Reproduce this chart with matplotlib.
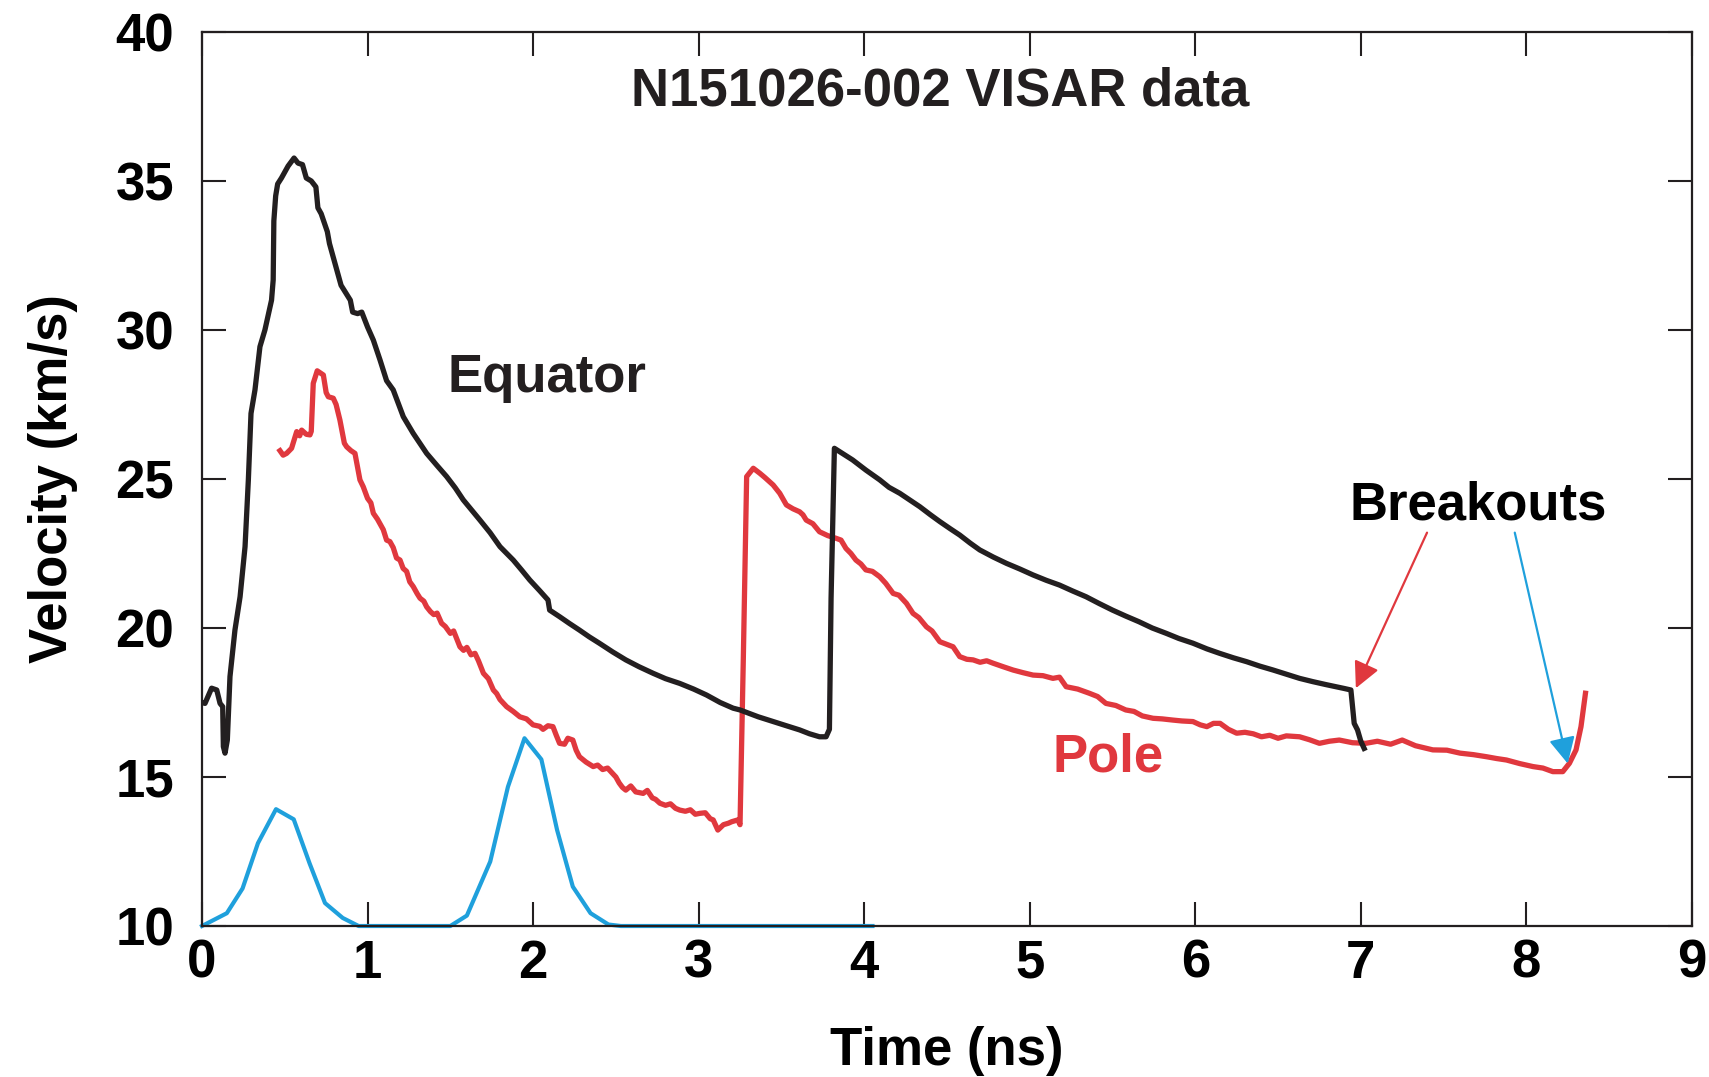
import matplotlib
matplotlib.use("Agg")
import matplotlib.pyplot as plt

# ---------------- data ----------------
eq_t = [0.00, 0.018, 0.058, 0.089, 0.109, 0.125, 0.129, 0.139, 0.153, 0.169, 0.199, 0.23, 0.26, 0.28,
        0.296, 0.32, 0.35, 0.38, 0.42, 0.43, 0.434, 0.445, 0.457, 0.48, 0.52, 0.556, 0.58, 0.607, 0.63,
        0.66, 0.688, 0.70, 0.72, 0.757, 0.77, 0.815, 0.84, 0.896, 0.91, 0.94, 0.965, 1.0, 1.035, 1.075,
        1.115, 1.155, 1.216, 1.276, 1.357, 1.42, 1.478, 1.53, 1.578, 1.63, 1.679, 1.74, 1.80, 1.88, 1.93,
        1.98, 2.04, 2.09, 2.10, 2.16, 2.22, 2.28, 2.34, 2.40, 2.48, 2.56, 2.64, 2.725, 2.80, 2.886, 2.97,
        3.048, 3.13, 3.208, 3.25, 3.36, 3.45, 3.53, 3.61, 3.67, 3.73, 3.77, 3.79, 3.80, 3.82, 3.93, 4.01,
        4.094, 4.15, 4.215, 4.28, 4.336, 4.40, 4.457, 4.52, 4.577, 4.64, 4.698, 4.78, 4.859, 4.94, 5.02,
        5.10, 5.18, 5.26, 5.34, 5.42, 5.50, 5.58, 5.66, 5.74, 5.825, 5.90, 5.986, 6.07, 6.147, 6.23, 6.31,
        6.39, 6.47, 6.55, 6.63, 6.71, 6.79, 6.85, 6.90, 6.94, 6.96, 6.98, 7.00, 7.02]
eq_v = [17.5, 17.47, 17.98, 17.92, 17.47, 17.36, 16.02, 15.80, 16.24, 18.37, 19.93, 21.05, 22.73, 24.97,
        27.2, 27.99, 29.44, 30.0, 31.0, 31.68, 33.66, 34.5, 34.9, 35.1, 35.5, 35.77, 35.6, 35.55, 35.1,
        35.0, 34.8, 34.1, 33.9, 33.3, 32.9, 32.0, 31.5, 31.0, 30.6, 30.55, 30.6, 30.1, 29.66, 29.0,
        28.3, 27.99, 27.09, 26.53, 25.86, 25.45, 25.08, 24.7, 24.30, 23.95, 23.62, 23.2, 22.73, 22.28, 21.95,
        21.61, 21.25, 20.94, 20.60, 20.38, 20.15, 19.93, 19.7, 19.49, 19.2, 18.93, 18.7, 18.48, 18.3, 18.14, 17.95,
        17.75, 17.5, 17.31, 17.25, 17.02, 16.86, 16.72, 16.58, 16.45, 16.35, 16.35, 16.6, 21.0, 26.03, 25.64, 25.3,
        24.97, 24.72, 24.52, 24.28, 24.07, 23.8, 23.57, 23.33, 23.12, 22.85, 22.62, 22.38, 22.17, 21.98, 21.78,
        21.6, 21.44, 21.24, 21.05, 20.82, 20.60, 20.4, 20.21, 20.0, 19.82, 19.65, 19.49, 19.3, 19.15, 19.0, 18.87,
        18.72, 18.59, 18.45, 18.31, 18.2, 18.1, 18.03, 17.97, 17.92, 16.80, 16.58, 16.2, 15.96]

pole_t = [0.471, 0.49, 0.511, 0.541, 0.572, 0.59, 0.602, 0.63, 0.652, 0.66,
          0.672, 0.696, 0.733, 0.75, 0.763, 0.793, 0.81, 0.833, 0.86, 0.874,
          0.90, 0.924, 0.954, 0.974, 1.00, 1.02, 1.035, 1.06, 1.075, 1.095,
          1.115, 1.135, 1.155, 1.175, 1.196, 1.215, 1.236, 1.255, 1.276, 1.30,
          1.317, 1.34, 1.357, 1.38, 1.40, 1.42, 1.447, 1.47, 1.50, 1.52,
          1.558, 1.58, 1.60, 1.625, 1.649, 1.67, 1.70, 1.73, 1.76, 1.78,
          1.80, 1.84, 1.88, 1.92, 1.96, 2.0, 2.04, 2.06, 2.09, 2.12,
          2.14, 2.16, 2.19, 2.21, 2.24, 2.26, 2.28, 2.32, 2.363, 2.39,
          2.42, 2.45, 2.48, 2.50, 2.52, 2.54, 2.56, 2.59, 2.62, 2.665,
          2.69, 2.72, 2.74, 2.766, 2.80, 2.83, 2.86, 2.886, 2.92, 2.95,
          2.98, 3.007, 3.04, 3.07, 3.088, 3.116, 3.15, 3.18, 3.20, 3.237,
          3.25, 3.27, 3.29, 3.33, 3.37, 3.40, 3.42, 3.45, 3.49, 3.53,
          3.57, 3.61, 3.63, 3.65, 3.69, 3.73, 3.78, 3.83, 3.86, 3.89,
          3.92, 3.95, 3.98, 4.01, 4.05, 4.094, 4.13, 4.175, 4.21, 4.255,
          4.295, 4.33, 4.376, 4.41, 4.457, 4.50, 4.537, 4.577, 4.62, 4.658,
          4.70, 4.74, 4.778, 4.84, 4.899, 4.96, 5.02, 5.08, 5.14, 5.18,
          5.22, 5.29, 5.36, 5.41, 5.46, 5.52, 5.58, 5.63, 5.68, 5.745,
          5.80, 5.865, 5.92, 5.986, 6.03, 6.07, 6.11, 6.15, 6.20, 6.25,
          6.30, 6.35, 6.40, 6.45, 6.50, 6.55, 6.63, 6.69, 6.75, 6.81,
          6.87, 6.95, 7.03, 7.10, 7.18, 7.25, 7.33, 7.435, 7.52, 7.60,
          7.68, 7.76, 7.82, 7.88, 7.96, 8.04, 8.10, 8.16, 8.22, 8.26,
          8.30, 8.33, 8.357]
pole_v = [25.95, 25.8, 25.86, 26.03, 26.59, 26.45, 26.64, 26.5, 26.48, 26.6,
          28.21, 28.63, 28.49, 27.9, 27.76, 27.71, 27.5, 26.98, 26.2, 26.08,
          25.95, 25.86, 24.97, 24.74, 24.35, 24.2, 23.85, 23.65, 23.5, 23.3,
          22.95, 22.9, 22.7, 22.35, 22.28, 22.0, 21.9, 21.55, 21.39, 21.15,
          21.0, 20.9, 20.71, 20.55, 20.45, 20.5, 20.16, 20.05, 19.82, 19.9,
          19.37, 19.25, 19.35, 19.1, 19.15, 18.9, 18.48, 18.3, 17.92, 17.8,
          17.6, 17.36, 17.2, 17.02, 16.95, 16.75, 16.7, 16.6, 16.72, 16.69,
          16.4, 16.13, 16.1, 16.3, 16.24, 15.9, 15.68, 15.5, 15.35, 15.4,
          15.25, 15.3, 15.12, 15.0, 14.8, 14.65, 14.56, 14.7, 14.5, 14.45,
          14.55, 14.3, 14.25, 14.12, 14.05, 14.1, 13.95, 13.89, 13.85, 13.9,
          13.75, 13.78, 13.8, 13.6, 13.56, 13.22, 13.4, 13.45, 13.5, 13.56,
          13.4, 19.0, 25.08, 25.36, 25.19, 25.05, 24.95, 24.8, 24.52, 24.13,
          24.0, 23.9, 23.8, 23.62, 23.5, 23.23, 23.1, 23.01, 22.95, 22.67,
          22.5, 22.28, 22.15, 21.95, 21.9, 21.72, 21.5, 21.16, 21.1, 20.83,
          20.49, 20.35, 20.04, 19.9, 19.54, 19.45, 19.37, 19.04, 18.95, 18.93,
          18.85, 18.9, 18.82, 18.7, 18.59, 18.5, 18.42, 18.4, 18.31, 18.35,
          18.03, 17.95, 17.81, 17.7, 17.47, 17.4, 17.25, 17.2, 17.05, 16.97,
          16.95, 16.91, 16.88, 16.86, 16.75, 16.69, 16.8, 16.8, 16.6, 16.47,
          16.5, 16.45, 16.35, 16.4, 16.3, 16.38, 16.35, 16.25, 16.13, 16.2,
          16.24, 16.15, 16.13, 16.2, 16.1, 16.24, 16.05, 15.91, 15.9, 15.8,
          15.75, 15.68, 15.62, 15.57, 15.45, 15.35, 15.3, 15.18, 15.18, 15.46,
          15.91, 16.69, 17.81]

pulse_t = [0.0, 0.15, 0.245, 0.338, 0.447, 0.554, 0.65, 0.743, 0.85, 0.946, 1.50, 1.60, 1.741, 1.848,
           1.948, 2.05, 2.145, 2.24, 2.347, 2.455, 2.53, 4.05]
pulse_v = [10.0, 10.43, 11.26, 12.78, 13.92, 13.58, 12.1, 10.77, 10.27, 10.0, 10.0, 10.35, 12.16, 14.67,
           16.3, 15.59, 13.22, 11.32, 10.43, 10.05, 10.0, 10.0]

x_ticks = [0, 1, 2, 3, 4, 5, 6, 7, 8, 9]
y_ticks = [10, 15, 20, 25, 30, 35, 40]

title = "N151026-002 VISAR data"
# ---------------------------------------

BLACK = "#231f20"
RED = "#e0383e"
BLUE = "#1fa0dc"
FS = 38

plt.rcParams['font.family'] = ['Liberation Sans', 'DejaVu Sans']
plt.rcParams['font.weight'] = 'bold'

fig = plt.figure(figsize=(17.09, 10.77), dpi=100)
ax = fig.add_axes([0.1182, 0.1402, 0.8718, 0.8301])

ax.plot(pulse_t, pulse_v, color=BLUE, lw=3.0, clip_on=False, zorder=2, solid_joinstyle='round')
ax.plot(pole_t, pole_v, color=RED, lw=3.8, zorder=3, solid_joinstyle='round')
ax.plot(eq_t, eq_v, color=BLACK, lw=3.8, zorder=4, solid_joinstyle='round')

ax.set_xlim(0, 9)
ax.set_ylim(10, 40)
ax.set_xticks(x_ticks)
ax.set_yticks(y_ticks)
ax.tick_params(direction='in', length=17, width=1.5, color=BLACK, top=True, right=True,
               labelsize=FS, labelcolor='black')
ax.tick_params(axis='x', pad=9)
ax.tick_params(axis='y', pad=20)
for lab in ax.get_xticklabels() + ax.get_yticklabels():
    lab.set_fontweight('bold')
for sp in ax.spines.values():
    sp.set_linewidth(1.6)
    sp.set_color(BLACK)
    sp.set_zorder(5)

ax.set_xlabel("Time (ns)", fontsize=FS, fontweight='bold', color='black', labelpad=27)
ax.set_ylabel("Velocity (km/s)", fontsize=FS, fontweight='bold', color='black', labelpad=27)

ax.text(4.46, 38.0, title, fontsize=FS, fontweight='bold', color=BLACK, ha='center', va='center')
ax.text(1.48, 28.4, "Equator", fontsize=FS, fontweight='bold', color=BLACK, ha='left', va='center')
ax.text(5.14, 15.65, "Pole", fontsize=FS, fontweight='bold', color=RED, ha='left', va='center')
ax.text(6.93, 24.1, "Breakouts", fontsize=FS, fontweight='bold', color='black', ha='left', va='center')

ax.annotate("", xy=(6.97, 17.98), xytext=(7.40, 23.2),
            arrowprops=dict(arrowstyle='-|>', color=RED, lw=1.6, mutation_scale=40,
                            shrinkA=0, shrinkB=0))
ax.annotate("", xy=(8.25, 15.45), xytext=(7.93, 23.2),
            arrowprops=dict(arrowstyle='-|>', color=BLUE, lw=1.6, mutation_scale=40,
                            shrinkA=0, shrinkB=0))

fig.savefig("out.png", dpi=100)
